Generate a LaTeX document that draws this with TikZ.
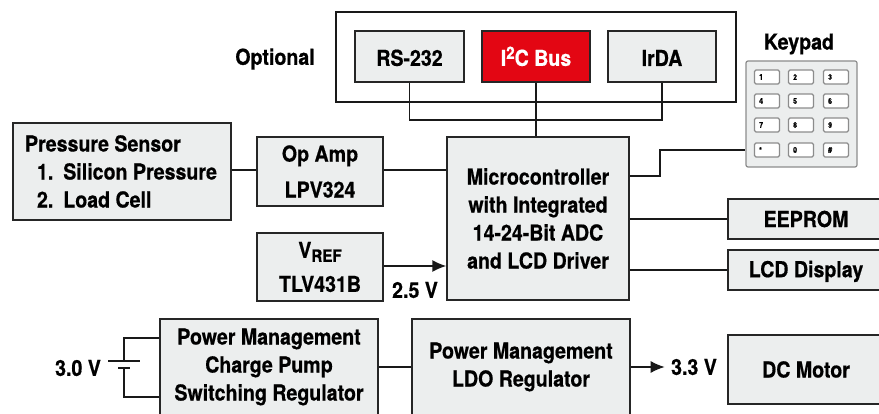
\documentclass[tikz,border=0pt]{standalone}
\usepackage{fontspec}
\setmainfont{TeX Gyre Heros}[FakeStretch=0.89,FakeBold=0.6]
\usetikzlibrary{arrows.meta}
\definecolor{boxgray}{HTML}{ECEEEE}
\definecolor{busred}{HTML}{E30613}
\newcommand{\smallrise}[2]{\raisebox{#1}{\fontsize{17}{17}\selectfont #2}}
\tikzset{
  blockbox/.style={draw=black!85,line width=1.4pt,fill=boxgray,align=center,inner sep=0pt,font=\bfseries\fontsize{22}{28}\selectfont},
  redbox/.style={blockbox,fill=busred,text=white},
  plainlabel/.style={inner sep=0pt,font=\bfseries\fontsize{22}{28}\selectfont},
  wire/.style={line width=1.4pt,black!90},
  arrowwire/.style={wire,-{Latex[length=14pt,width=12pt]}},
  keybox/.style={draw=black!45,line width=1.2pt,fill=white,rounded corners=1.5pt,minimum width=25pt,minimum height=14pt,inner sep=0pt},
  keytext/.style={inner sep=0pt,font=\bfseries\fontsize{8}{9}\selectfont}
}
\begin{document}
\begin{tikzpicture}[x=1pt,y=-1pt]
  \useasboundingbox (0,0) rectangle (879,414);
  % optional group
  \node[draw=black!90,line width=1.4pt,minimum width=400pt,minimum height=90pt,inner sep=0pt] (optbox) at (536,57) {};
  \node[plainlabel] (optlabel) at (275,59) {Optional};
  \node[blockbox,minimum width=109pt,minimum height=51pt,text height=19pt] (rs232) at (409.5,56.5) {RS-232};
  \node[redbox,minimum width=108pt,minimum height=51pt,text height=19pt] (i2c) at (536,56.5) {I\smallrise{7pt}{2}C Bus};
  \node[blockbox,minimum width=108pt,minimum height=51pt,text height=19pt] (irda) at (662,56.5) {IrDA};
  % left column
  \node[blockbox,text width=206pt,inner xsep=6pt,minimum height=97pt,align=flush left] (sensor) at (122,171.5) {\hspace*{6pt}Pressure Sensor\\\hspace*{18pt}1.\hspace{10pt}Silicon Pressure\\\hspace*{18pt}2.\hspace{10pt}Load Cell};
  \node[blockbox,minimum width=126pt,minimum height=69pt] (opamp) at (320,171.5) {Op Amp\\[8pt]LPV324};
  \node[blockbox,minimum width=126pt,minimum height=68pt] (vref) at (320,267) {V\smallrise{-4pt}{REF}\\[6pt]TLV431B};
  \node[blockbox,minimum width=182pt,minimum height=163pt] (micro) at (538,218.5) {Microcontroller\\with Integrated\\14-24-Bit ADC\\and LCD Driver};
  % right column
  \node[blockbox,minimum width=156pt,minimum height=40pt] (eeprom) at (806,219) {EEPROM};
  \node[blockbox,minimum width=156pt,minimum height=40pt,text depth=2pt] (lcd) at (806,270) {LCD Display};
  \node[blockbox,minimum width=156pt,minimum height=69pt] (motor) at (806,369.5) {DC Motor};
  % bottom row
  \node[blockbox,minimum width=218pt,minimum height=100pt,text depth=9pt] (charge) at (269,369) {Power Management\\Charge Pump\\Switching Regulator};
  \node[blockbox,minimum width=218pt,minimum height=100pt,text depth=9pt] (ldo) at (521,369) {Power Management\\LDO Regulator};
  \node[plainlabel] (batlabel) at (78,368) {3.0 V};
  \node[plainlabel] (reflabel) at (415,290) {2.5 V};
  \node[plainlabel] (motlabel) at (694,367) {3.3 V};
  % keypad
  \node[plainlabel] (keylabel) at (799,44) {Keypad};
  \node[draw=black!45,line width=1.2pt,fill=boxgray,rounded corners=2pt,minimum width=111pt,minimum height=106pt,inner sep=0pt] (keypad) at (801.5,114) {};
  \foreach \k/\x/\y in {1/767/77, 2/801/77, 3/836/77, 4/767/101, 5/801/101, 6/836/101,
                        7/767/125, 8/801/125, 9/836/125, star/767/150, 0/801/150, hash/836/150} {
    \node[keybox] (key\k) at (\x,\y) {};
  }
  \foreach \k/\t in {1/1, 2/2, 3/3, 4/4, 5/5, 6/6, 7/7, 8/8, 9/9, star/*, 0/0, hash/\#} {
    \node[keytext,anchor=west] at ([xshift=5pt]key\k.west) {\t};
  }
  % connectors
  \coordinate (busmid) at (536,120);
  \coordinate (keybend) at (660,176);
  \coordinate (batnode) at (124,361);
  \coordinate (batlow) at (124,368);
  \draw[wire] (rs232.south) |- (busmid) -| (irda.south);
  \draw[wire] (i2c.south) -- (i2c.south |- micro.north);
  \draw[wire] (sensor.east |- 0,170) -- (opamp.west |- 0,170);
  \draw[wire] (opamp.east |- 0,170) -- (micro.west |- 0,170);
  \draw[arrowwire] (vref.east |- 0,266) -- (micro.west |- 0,266);
  \draw[wire] (micro.east |- keybend) -- (keybend) |- (keypad.west |- keystar.west);
  \draw[wire] (micro.east |- eeprom.west) -- (eeprom.west);
  \draw[wire] (micro.east |- lcd.west) -- (lcd.west);
  \draw[wire] (charge.east |- 0,367) -- (ldo.west |- 0,367);
  \draw[arrowwire] (ldo.east |- motlabel) -- ++(34,0);
  % battery
  \draw[wire] (batnode) |- (charge.west |- 0,338);
  \draw[wire] (batlow) |- (charge.west |- 0,397);
  \draw[wire] ([xshift=-16pt]batnode) -- ([xshift=16pt]batnode);
  \draw[wire] ([xshift=-6pt]batlow) -- ([xshift=6pt]batlow);
\end{tikzpicture}
\end{document}
